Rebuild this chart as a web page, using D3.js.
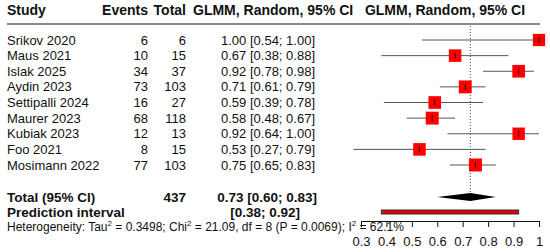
<!DOCTYPE html>
<html>
<head>
<meta charset="utf-8">
<script src="https://cdn.jsdelivr.net/npm/d3@7"></script>
<style>
  body { margin: 0; background: #fff; }
  svg text { font-family: "Liberation Sans", Arial, sans-serif; fill: #111; }
</style>
</head>
<body>
<div id="svg"></div>
<script>
// study data
const studies = ["Srikov 2020", "Maus 2021", "Islak 2025", "Aydin 2023", "Settipalli 2024",
                 "Maurer 2023", "Kubiak 2023", "Foo 2021", "Mosimann 2022"]
const events = [6, 10, 34, 73, 16, 68, 12, 8, 77]
const totals = [6, 15, 37, 103, 27, 118, 13, 15, 103]
const est = [1.00, 0.67, 0.92, 0.71, 0.59, 0.58, 0.92, 0.53, 0.75]
const lower = [0.54, 0.38, 0.78, 0.61, 0.39, 0.48, 0.64, 0.27, 0.65]
const upper = [1.00, 0.88, 0.98, 0.79, 0.78, 0.67, 1.00, 0.79, 0.83]
const weights = [10.5, 11.0, 11.2, 11.6, 11.2, 11.6, 10.8, 11.0, 11.8]

// pooled
const pooled = { est: 0.73, lo: 0.60, hi: 0.83, total: 437 }
const predInt = [0.38, 0.92]
const axisTicks = [0.3, 0.4, 0.5, 0.6, 0.7, 0.8, 0.9, 1]

const width = 550
const height = 252

const svg = d3.select("#svg")
    .append("svg")
    .attr("width", width)
    .attr("height", height)

const x = d3.scaleLinear().domain([0.3, 1]).range([361, 539])
const rowY = d3.scaleLinear().domain([0, 8]).range([40, 165])
const size = d3.scaleSqrt().domain([0, d3.max(weights)]).range([0, 13])
const fmt = d3.format(".2f")

// header
const header = svg.append("g").attr("font-weight", "bold").attr("font-size", 14)
header.append("text").attr("x", 7).attr("y", 15).text("Study")
header.append("text").attr("x", 148).attr("y", 15).attr("text-anchor", "end").text("Events")
header.append("text").attr("x", 186).attr("y", 15).attr("text-anchor", "end").text("Total")
header.append("text").attr("x", 193).attr("y", 15).text("GLMM, Random, 95% CI")
header.append("text").attr("x", 445).attr("y", 15).attr("text-anchor", "middle").text("GLMM, Random, 95% CI")

svg.append("line")
    .attr("x1", 7).attr("x2", 540)
    .attr("y1", 24).attr("y2", 24)
    .attr("stroke", "#666")
    .attr("stroke-width", 1.6)

// reference dotted line at pooled estimate
svg.append("line")
    .attr("x1", x(pooled.est)).attr("x2", x(pooled.est))
    .attr("y1", 26).attr("y2", 193)
    .attr("stroke", "#444")
    .attr("stroke-dasharray", "1,2")

// rows
const rows = svg.append("g").attr("font-size", 13)
    .selectAll("g")
    .data(studies)
    .join("g")
    .attr("transform", (d, i) => `translate(0,${rowY(i)})`)

rows.append("text").attr("x", 7).attr("y", 4.5).text(d => d)
rows.append("text").attr("x", 148).attr("y", 4.5).attr("text-anchor", "end").text((d, i) => events[i])
rows.append("text").attr("x", 186).attr("y", 4.5).attr("text-anchor", "end").text((d, i) => totals[i])
rows.append("text").attr("x", 315).attr("y", 4.5).attr("text-anchor", "end")
    .text((d, i) => `${fmt(est[i])} [${fmt(lower[i])}; ${fmt(upper[i])}]`)

rows.append("line")
    .attr("x1", (d, i) => x(lower[i]))
    .attr("x2", (d, i) => x(upper[i]))
    .attr("stroke", "#555")
    .attr("stroke-width", 1)

rows.append("rect")
    .attr("x", (d, i) => x(est[i]) - size(weights[i]) / 2)
    .attr("y", (d, i) => -size(weights[i]) / 2)
    .attr("width", (d, i) => size(weights[i]))
    .attr("height", (d, i) => size(weights[i]))
    .attr("fill", "#ff0000")

rows.append("line")
    .attr("x1", (d, i) => x(est[i]))
    .attr("x2", (d, i) => x(est[i]))
    .attr("y1", -3).attr("y2", 3)
    .attr("stroke", "#111")

// total row
const yTot = 197
const tot = svg.append("g").attr("font-weight", "bold").attr("font-size", 13.5)
tot.append("text").attr("x", 7).attr("y", yTot + 4.5).text("Total (95% CI)")
tot.append("text").attr("x", 186).attr("y", yTot + 4.5).attr("text-anchor", "end").text(pooled.total)
tot.append("text").attr("x", 317).attr("y", yTot + 4.5).attr("text-anchor", "end")
    .text(`${fmt(pooled.est)} [${fmt(pooled.lo)}; ${fmt(pooled.hi)}]`)

svg.append("path")
    .attr("d", `M${x(pooled.lo)},${yTot} L${x(pooled.est)},${yTot - 4} L${x(pooled.hi)},${yTot} L${x(pooled.est)},${yTot + 4} Z`)
    .attr("fill", "#000")

// prediction interval
const yPred = 212
tot.append("text").attr("x", 7).attr("y", yPred + 4.5).text("Prediction interval")
tot.append("text").attr("x", 300).attr("y", yPred + 4.5).attr("text-anchor", "end")
    .text(`[${fmt(predInt[0])}; ${fmt(predInt[1])}]`)

svg.append("rect")
    .attr("x", x(predInt[0]))
    .attr("y", yPred - 2)
    .attr("width", x(predInt[1]) - x(predInt[0]))
    .attr("height", 4)
    .attr("fill", "#e00000")
    .attr("stroke", "#333")
    .attr("stroke-width", 1)

// heterogeneity
const het = svg.append("text").attr("x", 7).attr("y", 231).attr("font-size", 12)
het.append("tspan").text("Heterogeneity: Tau")
het.append("tspan").attr("dy", -5).attr("font-size", 8).text("2")
het.append("tspan").attr("dy", 5).text(" = 0.3498; Chi")
het.append("tspan").attr("dy", -5).attr("font-size", 8).text("2")
het.append("tspan").attr("dy", 5).text(" = 21.09, df = 8 (P = 0.0069); I")
het.append("tspan").attr("dy", -5).attr("font-size", 8).text("2")
het.append("tspan").attr("dy", 5).text(" = 62.1%")

// axis
const axis = svg.append("g")
    .attr("transform", "translate(0,221)")
    .call(d3.axisBottom(x)
        .tickValues(axisTicks)
        .tickSize(6)
        .tickPadding(10)
        .tickFormat(d => d === 1 ? "1" : d3.format(".1f")(d)))
axis.selectAll("text").attr("font-size", 13).attr("font-family", "Liberation Sans, Arial, sans-serif").attr("fill", "#111")
axis.select(".domain").attr("stroke", "#111")
axis.selectAll(".tick line").attr("stroke", "#111")
</script>
</body>
</html>
